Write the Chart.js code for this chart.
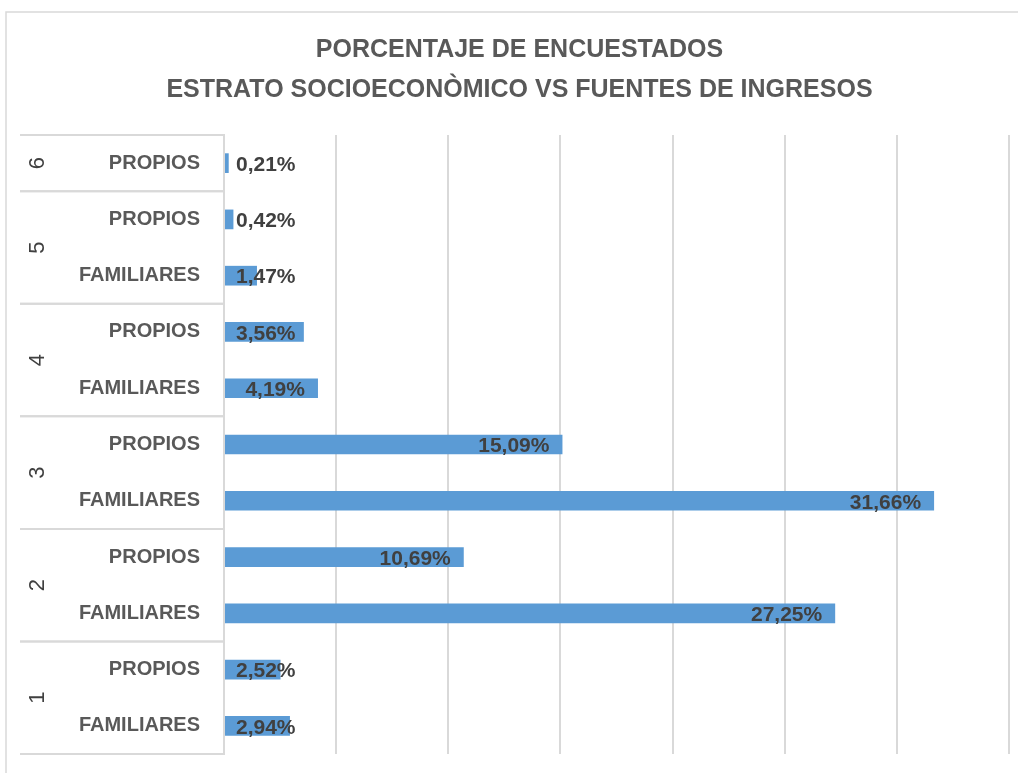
<!DOCTYPE html>
<html>
<head>
<meta charset="utf-8">
<script src="https://cdn.jsdelivr.net/npm/chart.js@4.4.1/dist/chart.umd.min.js"></script>
<style>
  body { margin: 0; background: #fff; }
  #wrap { width: 1018px; height: 773px; }
</style>
</head>
<body>
<div id="wrap"><canvas id="chart" width="1018" height="773"></canvas></div>
<script>
const titleLines = ["PORCENTAJE DE ENCUESTADOS", "ESTRATO SOCIOECONÒMICO VS FUENTES DE INGRESOS"];
const groups = ["6", "5", "5", "4", "4", "3", "3", "2", "2", "1", "1"];
const sources = ["PROPIOS", "PROPIOS", "FAMILIARES", "PROPIOS", "FAMILIARES", "PROPIOS", "FAMILIARES", "PROPIOS", "FAMILIARES", "PROPIOS", "FAMILIARES"];
const values = [0.21, 0.42, 1.47, 3.56, 4.19, 15.09, 31.66, 10.69, 27.25, 2.52, 2.94];

const FONT = "'Liberation Sans', Arial, sans-serif";
const lineGrey = "#d9d9d9";

// white background + outer chart frame
const framePlugin = {
  id: "frame",
  beforeDraw(chart) {
    const c = chart.ctx;
    c.save();
    c.fillStyle = "#fff";
    c.fillRect(0, 0, chart.width, chart.height);
    c.strokeStyle = lineGrey;
    c.lineWidth = 1.5;
    c.strokeRect(6, 12, 1200, 1000);
    c.restore();
  }
};

// outer level of the category axis: group numbers and separators
const groupAxisPlugin = {
  id: "groupAxis",
  afterDraw(chart) {
    const c = chart.ctx, y = chart.scales.y, area = chart.chartArea;
    const x0 = 20, x1 = area.left;
    const edge = i => {
      if (i <= 0) return area.top;
      if (i >= groups.length) return area.bottom;
      return (y.getPixelForValue(i - 1) + y.getPixelForValue(i)) / 2;
    };
    c.save();
    c.strokeStyle = lineGrey;
    c.lineWidth = 2;
    let start = 0;
    for (let i = 1; i <= groups.length; i++) {
      if (i === groups.length || groups[i] !== groups[start]) {
        const top = edge(start), bot = edge(i);
        c.beginPath();
        c.moveTo(x0, top); c.lineTo(x1, top);
        c.moveTo(x0, bot); c.lineTo(x1, bot);
        c.stroke();
        const mid = (y.getPixelForValue(start) + y.getPixelForValue(i - 1)) / 2;
        c.save();
        c.translate(38, mid);
        c.rotate(-Math.PI / 2);
        c.fillStyle = "#404040";
        c.font = "22px " + FONT;
        c.textAlign = "center";
        c.textBaseline = "middle";
        c.fillText(groups[start], 0, 0);
        c.restore();
        start = i;
      }
    }
    c.restore();
  }
};

// value labels, Excel "inside end" style
const valueLabelPlugin = {
  id: "valueLabels",
  afterDatasetsDraw(chart) {
    const c = chart.ctx;
    const meta = chart.getDatasetMeta(0);
    c.save();
    c.font = "bold 21px " + FONT;
    c.fillStyle = "#404040";
    c.textAlign = "left";
    c.textBaseline = "middle";
    meta.data.forEach((bar, i) => {
      const txt = values[i].toFixed(2).replace(".", ",") + "%";
      const w = c.measureText(txt).width;
      const x = Math.max(bar.x - 13 - w, bar.base + 11);
      c.fillText(txt, x, bar.y + 2);
    });
    c.restore();
  }
};

new Chart(document.getElementById("chart"), {
  type: "bar",
  data: {
    labels: sources,
    datasets: [{
      data: values,
      backgroundColor: "#5b9bd5",
      barPercentage: 0.35,
      categoryPercentage: 1
    }]
  },
  options: {
    indexAxis: "y",
    responsive: false,
    animation: false,
    layout: { padding: { left: 30, right: 9, top: 0, bottom: 19 } },
    plugins: {
      legend: { display: false },
      tooltip: { enabled: false },
      title: {
        display: true,
        text: titleLines,
        color: "#595959",
        font: { family: FONT, size: 25, weight: "bold", lineHeight: 1.6 },
        padding: { top: 30, bottom: 25 }
      }
    },
    scales: {
      x: {
        min: 0,
        max: 35,
        ticks: { display: false, stepSize: 5 },
        grid: { color: lineGrey, lineWidth: 2, drawTicks: false },
        border: { display: false }
      },
      y: {
        afterFit(scale) { scale.width = 194; },
        ticks: {
          color: "#595959",
          padding: 0,
          font: { family: FONT, size: 20, weight: "bold" }
        },
        // invisible tick marks push the labels away from the axis
        grid: { display: true, color: "rgba(0,0,0,0)", drawTicks: true, tickLength: 24 },
        border: { display: true, color: lineGrey, width: 2 }
      }
    }
  },
  plugins: [framePlugin, groupAxisPlugin, valueLabelPlugin]
});
</script>
</body>
</html>
